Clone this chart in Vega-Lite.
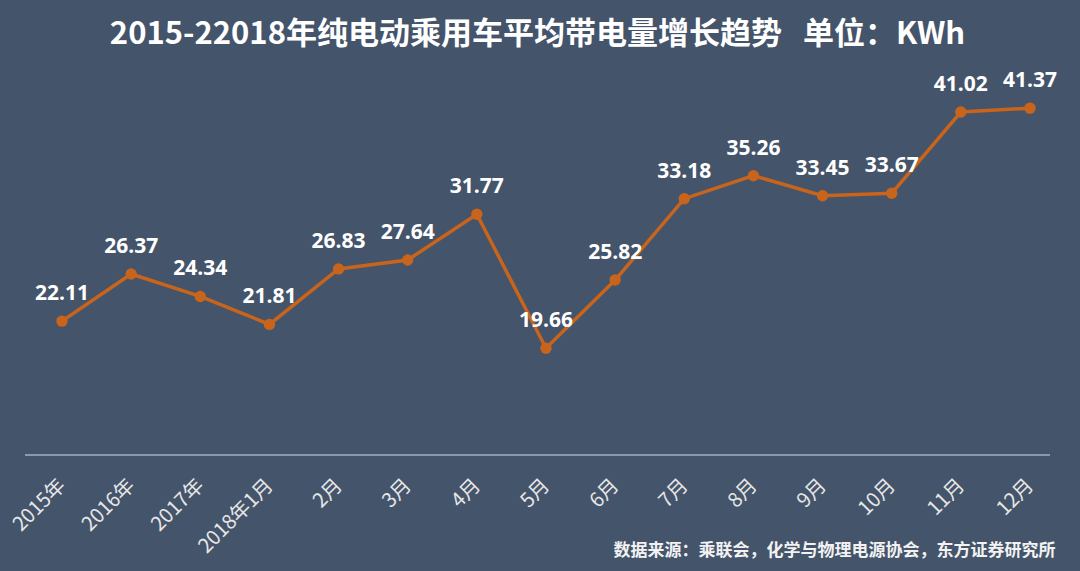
{
  "$schema": "https://vega.github.io/schema/vega-lite/v6.json",
  "width": 1025,
  "height": 387,
  "autosize": "none",
  "padding": {"top": 68, "left": 25, "right": 30, "bottom": 116},
  "background": "#44546A",
  "title": {
    "text": "2015-22018年纯电动乘用车平均带电量增长趋势\u00a0\u00a0\u00a0单位：KWh",
    "font": "Noto Sans CJK SC",
    "fontSize": 31,
    "fontWeight": "bold",
    "color": "#FFFFFF",
    "anchor": "middle",
    "offset": 17
  },
  "config": {
    "view": {"stroke": null},
    "font": "Noto Sans CJK SC"
  },
  "data": {
    "values": [
      {"period": "2015年", "kwh": 22.11},
      {"period": "2016年", "kwh": 26.37},
      {"period": "2017年", "kwh": 24.34},
      {"period": "2018年1月", "kwh": 21.81},
      {"period": "2月", "kwh": 26.83},
      {"period": "3月", "kwh": 27.64},
      {"period": "4月", "kwh": 31.77},
      {"period": "5月", "kwh": 19.66},
      {"period": "6月", "kwh": 25.82},
      {"period": "7月", "kwh": 33.18},
      {"period": "8月", "kwh": 35.26},
      {"period": "9月", "kwh": 33.45},
      {"period": "10月", "kwh": 33.67},
      {"period": "11月", "kwh": 41.02},
      {"period": "12月", "kwh": 41.37}
    ]
  },
  "encoding": {
    "x": {
      "field": "period",
      "type": "ordinal",
      "sort": null,
      "scale": {"type": "point", "range": [37, 1005], "padding": 0},
      "axis": {
        "title": "数据来源：乘联会，化学与物理电源协会，东方证券研究所",
        "titleX": 1030,
        "titleY": 95,
        "titleAlign": "right",
        "titleAnchor": null,
        "titleBaseline": "middle",
        "titleFontSize": 17,
        "titleFontWeight": "bold",
        "titleColor": "#F2F2F2",
        "labelAngle": -45,
        "labelAlign": "right",
        "labelBaseline": "middle",
        "labelPadding": 27,
        "labelFontSize": 20,
        "labelColor": "#E6E6E6",
        "labelFont": "Noto Sans CJK SC",
        "ticks": false,
        "domain": false,
        "grid": false
      }
    },
    "y": {
      "field": "kwh",
      "type": "quantitative",
      "scale": {"domain": [10, 45]},
      "axis": null
    }
  },
  "layer": [
    {
      "mark": {"type": "rule", "color": "#8C99AD", "strokeWidth": 1.5},
      "encoding": {"x": null, "y": {"datum": 10}}
    },
    {
      "mark": {"type": "line", "color": "#C8641C", "strokeWidth": 3.5}
    },
    {
      "mark": {"type": "point", "filled": true, "color": "#C8641C", "size": 130, "opacity": 1}
    },
    {
      "mark": {"type": "text", "dy": -27, "fontSize": 21, "fontWeight": "bold", "color": "#FFFFFF", "font": "Open Sans"},
      "encoding": {"text": {"field": "kwh", "type": "quantitative", "format": ".2f"}}
    }
  ]
}
